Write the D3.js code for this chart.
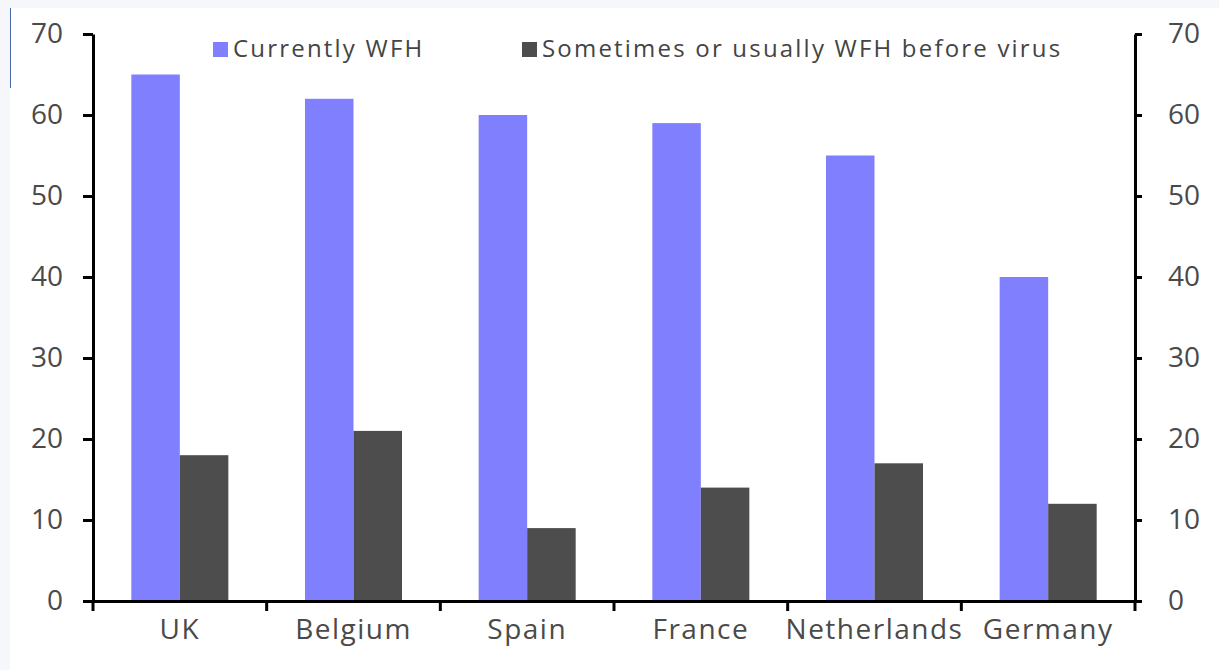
<!DOCTYPE html>
<html>
<head>
<meta charset="utf-8">
<script src="https://cdn.jsdelivr.net/npm/d3@7"></script>
<style>
  body { margin: 0; background: #f5f7fa; }
  #chart { position: absolute; left: 10px; top: 8px; }
  text { font-family: "Open Sans", sans-serif; fill: #444; }
</style>
</head>
<body>
<div id="chart"></div>
<script>
// data
const countries = ["UK", "Belgium", "Spain", "France", "Netherlands", "Germany"];
const series = ["Currently WFH", "Sometimes or usually WFH before virus"];
const currentlyWFH = [65, 62, 60, 59, 55, 40];
const beforeVirus = [18, 21, 9, 14, 17, 12];
const yTicks = [0, 10, 20, 30, 40, 50, 60, 70];
const colors = ["#8080ff", "#4d4d4d"];

const W = 1209, H = 662;
const ox = -10, oy = -8; // offset so coordinates match the page

const svg = d3.select("#chart").append("svg")
    .attr("width", W)
    .attr("height", H)
    .style("background", "#fff");

const g = svg.append("g").attr("transform", `translate(${ox},${oy})`);

// scales
const x = d3.scaleBand().domain(countries).range([93, 1135]).padding(0);
const x1 = d3.scaleBand().domain(series).range([0, x.bandwidth()])
    .paddingInner(0).paddingOuter(0.79);
const y = d3.scaleLinear().domain([0, 70]).range([601, 34]);

const rows = countries.map((c, i) => ({ country: c, values: [currentlyWFH[i], beforeVirus[i]] }));

// bars
const groups = g.selectAll(".grp").data(rows).enter().append("g")
    .attr("transform", d => `translate(${x(d.country)},0)`);

groups.selectAll("rect")
    .data(d => d.values.map((v, i) => ({ key: series[i], v: v, i: i })))
    .enter().append("rect")
    .attr("x", d => x1(d.key))
    .attr("width", x1.bandwidth())
    .attr("y", d => y(d.v))
    .attr("height", d => y(0) - y(d.v))
    .attr("fill", d => colors[d.i]);

// axes
function styleAxis(sel) {
    sel.selectAll("path").attr("stroke", "#000").attr("stroke-width", 3);
    sel.selectAll("line").attr("stroke", "#000").attr("stroke-width", 3);
    sel.selectAll("text").attr("font-family", null).style("font-size", "28px").style("fill", "#4a4a4a");
}

g.append("g")
    .attr("transform", `translate(${x.range()[0]},0)`)
    .call(d3.axisLeft(y).tickValues(yTicks).tickSize(10).tickSizeOuter(0).tickPadding(20))
    .call(styleAxis);

g.append("g")
    .attr("transform", `translate(${x.range()[1]},0)`)
    .call(d3.axisRight(y).tickValues(yTicks).tickSize(7).tickSizeOuter(0).tickPadding(26))
    .call(styleAxis);

const xAxis = g.append("g")
    .attr("transform", `translate(0,${y(0)})`)
    .call(d3.axisBottom(x).tickSize(0).tickSizeOuter(0).tickPadding(18))
    .call(styleAxis);
xAxis.selectAll(".tick text").style("letter-spacing", "1.5px");

// boundary ticks on x axis
const bounds = countries.map(c => x(c)).concat([x.range()[1]]);
xAxis.selectAll(".bound").data(bounds).enter().append("line")
    .attr("x1", d => d).attr("x2", d => d)
    .attr("y1", 0).attr("y2", 10)
    .attr("stroke", "#000").attr("stroke-width", 3);

// legend
const legendX = [213, 522];
const legend = g.selectAll(".leg").data(series).enter().append("g")
    .attr("transform", (d, i) => `translate(${legendX[i]},42)`);
legend.append("rect").attr("width", 15).attr("height", 15)
    .attr("fill", (d, i) => colors[i]);
legend.append("text")
    .attr("x", 20).attr("y", 15)
    .style("font-size", "24px")
    .style("letter-spacing", "2.2px")
    .text(d => d);

// small blue mark at the top-left edge
svg.append("line").attr("x1", 0.5).attr("x2", 0.5).attr("y1", 0).attr("y2", 80)
    .attr("stroke", "#4a6ab0").attr("stroke-width", 1);
</script>
</body>
</html>
